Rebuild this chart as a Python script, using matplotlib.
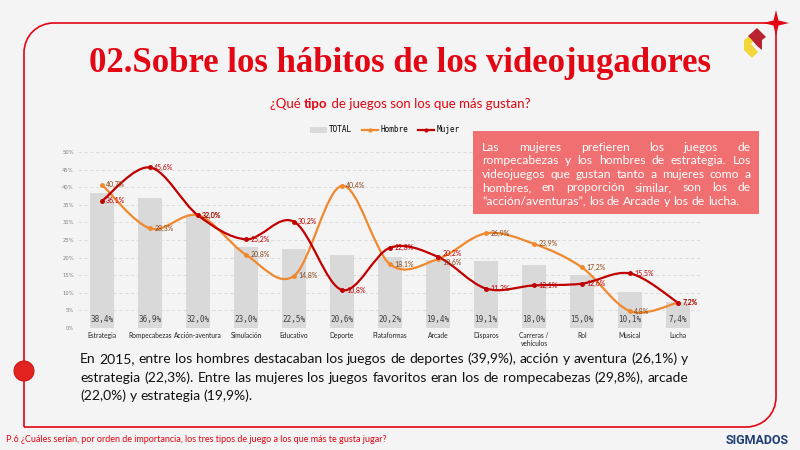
import numpy as np
import matplotlib.pyplot as plt
from matplotlib.path import Path
from matplotlib.patches import PathPatch, Ellipse, Polygon, Patch
from matplotlib.lines import Line2D

categorias = ['Estrategia', 'Rompecabezas', 'Acción-aventura', 'Simulación', 'Educativo',
              'Deporte', 'Plataformas', 'Arcade', 'Disparos', 'Carreras /\nvehículos',
              'Rol', 'Musical', 'Lucha']
total = [38.4, 36.9, 32.0, 23.0, 22.5, 20.6, 20.2, 19.4, 19.1, 18.0, 15.0, 10.1, 7.4]
hombre = [40.7, 28.3, 32.0, 20.8, 14.8, 40.4, 18.1, 19.6, 26.9, 23.9, 17.2, 4.8, 7.2]
mujer = [36.1, 45.6, 32.0, 25.2, 30.2, 10.8, 22.8, 20.2, 11.2, 12.1, 12.6, 15.5, 7.2]

titulo = '02.Sobre los hábitos de los videojugadores'
caja = ['Las mujeres prefieren los juegos de',
        'rompecabezas y los hombres de estrategia. Los',
        'videojuegos que gustan tanto a mujeres como a',
        'hombres, en proporción similar, son los de',
        '“acción/aventuras”, los de Arcade y los de lucha.']
parrafo = ['En 2015, entre los hombres destacaban los juegos de deportes (39,9%), acción y aventura (26,1%) y',
           'estrategia (22,3%). Entre las mujeres los juegos favoritos eran los de rompecabezas (29,8%), arcade',
           '(22,0%) y estrategia (19,9%).']
pie = 'P.6 ¿Cuáles serían, por orden de importancia, los tres tipos de juego a los que más te gusta jugar?'

W, H = 800, 450
BG = '#f4f4f4'
ROJO = '#e30613'
NARANJA = '#f0882e'
GRANATE = '#c00000'

fig = plt.figure(figsize=(8, 4.5), dpi=100)
fig.patch.set_facecolor(BG)


def fx(x):
    return x / W


def fy(y):
    return 1 - y / H


# marco
verts = [(24, 427), (24, 53), (24, 36), (37, 23), (54, 23), (776, 23), (776, 397),
         (776, 414), (763, 427), (746, 427), (24, 427)]
codes = [Path.MOVETO, Path.LINETO, Path.CURVE4, Path.CURVE4, Path.CURVE4, Path.LINETO,
         Path.LINETO, Path.CURVE4, Path.CURVE4, Path.CURVE4, Path.LINETO]
marco = Path([(fx(a), fy(b)) for a, b in verts], codes)
fig.add_artist(PathPatch(marco, transform=fig.transFigure, fill=False, ec=ROJO, lw=1.2))

# estrella
sx, sy = 776, 23
star = [(sx, sy - 13), (sx + 2.5, sy - 2.5), (sx + 13, sy), (sx + 2.5, sy + 2.5),
        (sx, sy + 13), (sx - 2.5, sy + 2.5), (sx - 13, sy), (sx - 2.5, sy - 2.5)]
fig.add_artist(Polygon([(fx(a), fy(b)) for a, b in star], transform=fig.transFigure, fc=ROJO, ec='none'))

# logo
amarillo = [(744, 40), (752, 34), (756, 38), (751, 44), (758, 52), (752, 58), (744, 50)]
rojo_logo = [(748, 36), (757, 28), (766, 37), (762, 40), (762, 50), (757, 46), (752, 40)]
fig.add_artist(Polygon([(fx(a), fy(b)) for a, b in amarillo], transform=fig.transFigure, fc='#f2d63a', ec='none'))
fig.add_artist(Polygon([(fx(a), fy(b)) for a, b in rojo_logo], transform=fig.transFigure, fc='#b8232f', ec='none'))

# circulo rojo
fig.add_artist(Ellipse((fx(24), fy(371)), 20 / W, 20 / H, transform=fig.transFigure,
                       fc='#e2231f', ec='#c41a17', lw=0.8))

fig.text(0.5, fy(63), titulo, ha='center', va='center', fontsize=25, color=ROJO,
         family='Liberation Serif', weight='bold')

# subtitulo
r = fig.canvas.get_renderer()
partes = [('¿Qué ', 'normal'), ('tipo', 'bold'), (' de juegos son los que más gustan?', 'normal')]
objs = [fig.text(0, fy(104), t, fontsize=9.5, color=ROJO, family='Lato', weight=w, va='center')
        for t, w in partes]
anchos = [o.get_window_extent(r).width for o in objs]
x = 400 - sum(anchos) / 2
for o, a in zip(objs, anchos):
    o.set_x(fx(x))
    x += a

# grafico
ax = fig.add_axes([fx(78), fy(328), (702 - 78) / W, (328 - 152) / H])
ax.set_facecolor(BG)
xs = np.arange(len(categorias))
ax.bar(xs, total, 0.5, color='#d9d9d9', zorder=2)


def suave(ys, k=1.0):
    pts = list(zip(xs, ys))
    v = [pts[0]]
    c = [Path.MOVETO]
    n = len(pts)
    for i in range(n - 1):
        p0 = np.array(pts[max(i - 1, 0)])
        p1 = np.array(pts[i])
        p2 = np.array(pts[i + 1])
        p3 = np.array(pts[min(i + 2, n - 1)])
        c1 = p1 + (p2 - p0) / 6 * k
        c2 = p2 - (p3 - p1) / 6 * k
        v += [tuple(c1), tuple(c2), tuple(p2)]
        c += [Path.CURVE4] * 3
    return Path(v, c)


for serie, col in [(hombre, NARANJA), (mujer, GRANATE)]:
    ax.add_patch(PathPatch(suave(serie), fill=False, ec=col, lw=1.6, zorder=3))
    ax.plot(xs, serie, 'o', color=col, ms=2.5, zorder=4)

for i in range(len(categorias)):
    ax.text(xs[i], 1.2, f'{total[i]:.1f}%'.replace('.', ','), ha='center', va='bottom',
            fontsize=5.5, family='DejaVu Sans Mono', color='#404040', zorder=5)
    d = mujer[i] - hombre[i]
    dh = dm = 0
    if 0 < abs(d) < 3:
        dm = 2.5 if d > 0 else -2.5
        dh = -dm
    ax.annotate(f'{hombre[i]:.1f}%'.replace('.', ','), (xs[i], hombre[i]), xytext=(3, dh),
                textcoords='offset points', ha='left', va='center',
                fontsize=5, family='Lato', color='#8a4516', zorder=5)
    ax.annotate(f'{mujer[i]:.1f}%'.replace('.', ','), (xs[i], mujer[i]), xytext=(3, dm),
                textcoords='offset points', ha='left', va='center',
                fontsize=5, family='Lato', color=GRANATE, zorder=5)

ax.set_xlim(-0.5, len(categorias) - 0.5)
ax.set_ylim(0, 50)
ax.set_yticks(np.arange(0, 51, 5))
ax.set_yticklabels([f'{v}%' for v in range(0, 51, 5)], fontsize=3.8, color='#808080')
ax.set_xticks(xs)
ax.set_xticklabels(categorias, fontsize=4.8, color='#222222', family='Lato')
ax.tick_params(length=0, pad=3)
ax.grid(axis='y', ls=(0, (4, 3)), color='#d8d8d8', lw=0.6, zorder=0)
for s in ax.spines.values():
    s.set_visible(False)

handles = [Patch(fc='#d9d9d9'), Line2D([], [], color=NARANJA, lw=1.6, marker='o', ms=2),
           Line2D([], [], color=GRANATE, lw=1.6, marker='o', ms=2)]
ax.legend(handles, ['TOTAL', 'Hombre', 'Mujer'], ncol=3, loc='center', frameon=False,
          bbox_to_anchor=(fx(385), fy(130)), bbox_transform=fig.transFigure,
          prop={'family': 'DejaVu Sans Mono', 'size': 5.5}, handlelength=2.2,
          handletextpad=0.3, columnspacing=1.2)


def justificar(lineas, x0, x1, y0, dy, size, color, fam, z=7):
    esp = fig.text(0, 0, 'a a', fontsize=size, family=fam)
    sin = fig.text(0, 0, 'aa', fontsize=size, family=fam)
    sp = esp.get_window_extent(r).width - sin.get_window_extent(r).width
    esp.remove()
    sin.remove()
    for i, linea in enumerate(lineas):
        palabras = linea.split(' ')
        ts = [fig.text(0, fy(y0 + i * dy), p, fontsize=size, color=color, family=fam,
                       va='baseline', zorder=z) for p in palabras]
        ws = [t.get_window_extent(r).width for t in ts]
        if i == len(lineas) - 1:
            gap = sp
        else:
            gap = (x1 - x0 - sum(ws)) / (len(palabras) - 1)
        x = x0
        for t, w in zip(ts, ws):
            t.set_x(fx(x))
            x += w + gap


# caja de texto
fig.add_artist(plt.Rectangle((fx(473), fy(214)), (759 - 473) / W, (214 - 131) / H,
                             transform=fig.transFigure, fc='#f07072', ec='none', zorder=6))
justificar(caja, 482, 751, 151, 13.4, 8.7, 'white', 'Lato')

justificar(parrafo, 80, 688, 363, 18.5, 10, '#111111', 'Lato')

fig.text(fx(6), fy(440), pie, fontsize=6.5, color=ROJO, family='Lato', va='center')
fig.text(fx(789), fy(440), 'SIGMADOS', fontsize=9, color='#1f3e74', family='Roboto',
         weight='bold', ha='right', va='center')

fig.savefig('out.png', dpi=100, facecolor=BG)
